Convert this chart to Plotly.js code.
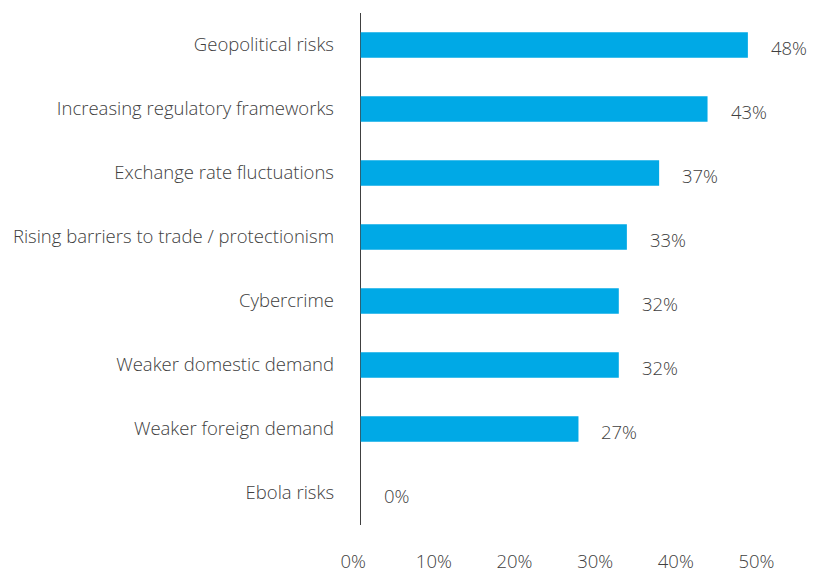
<!DOCTYPE html>
<html>
<head>
<meta charset="utf-8">
<script src="https://cdn.plot.ly/plotly-3.0.1.min.js"></script>
<style>html,body{margin:0;padding:0;background:#fff;}#chart{width:824px;height:572px;}</style>
</head>
<body>
<div id="chart"></div>
<script>
var categories = ["Geopolitical risks", "Increasing regulatory frameworks", "Exchange rate fluctuations", "Rising barriers to trade / protectionism", "Cybercrime", "Weaker domestic demand", "Weaker foreign demand", "Ebola risks"];
var values = [48, 43, 37, 33, 32, 32, 27, 0];
var valueLabels = ["48%", "43%", "37%", "33%", "32%", "32%", "27%", "0%"];
var tickVals = [0, 10, 20, 30, 40, 50];
var tickText = ["0%", "10%", "20%", "30%", "40%", "50%"];

var textColor = "#404040";
var fontFam = "Open Sans, Noto Sans, sans-serif";
var baseFont = {family: fontFam, size: 18.5, color: textColor, weight: 300};

var pxPerPct = 8.07;          // horizontal scale
var zeroPx = 361;             // pixel of the 0 value
var leftPad = 1.2;            // extra range left of 0 (percent units)
var labelShiftPct = 7.5 / pxPerPct;  // tick labels sit slightly left of their value

var barTrace = {
  type: "bar",
  orientation: "h",
  x: values,
  y: categories,
  marker: {color: "#00A9E6"},
  hoverinfo: "none"
};

var annotations = values.map(function(v, i) {
  return {
    x: v, y: categories[i], xref: "x", yref: "y",
    text: valueLabels[i], showarrow: false,
    xanchor: "left", xshift: 21, yshift: -2,
    font: baseFont
  };
});

var marginL = zeroPx - leftPad * pxPerPct;
var plotW = (50 + leftPad) * pxPerPct;

var layout = {
  width: 824, height: 572,
  margin: {l: marginL, r: 824 - marginL - plotW, t: 12.5, b: 47},
  paper_bgcolor: "#fff", plot_bgcolor: "#fff",
  showlegend: false,
  bargap: 0.6,
  font: baseFont,
  xaxis: {
    range: [-leftPad, 50],
    tickvals: tickVals.map(function(v){ return v - labelShiftPct; }),
    ticktext: tickText,
    showgrid: false, showline: false, ticks: "",
    zeroline: true, zerolinecolor: "#404040", zerolinewidth: 1.5,
    ticklabelstandoff: 23,
    tickfont: baseFont,
    fixedrange: true
  },
  yaxis: {
    type: "category",
    autorange: "reversed",
    showgrid: false, zeroline: false, showline: false,
    ticks: "", ticklabelstandoff: 16,
    tickfont: baseFont,
    fixedrange: true
  },
  annotations: annotations
};

Plotly.newPlot("chart", [barTrace], layout, {displayModeBar: false, staticPlot: true});
</script>
</body>
</html>
